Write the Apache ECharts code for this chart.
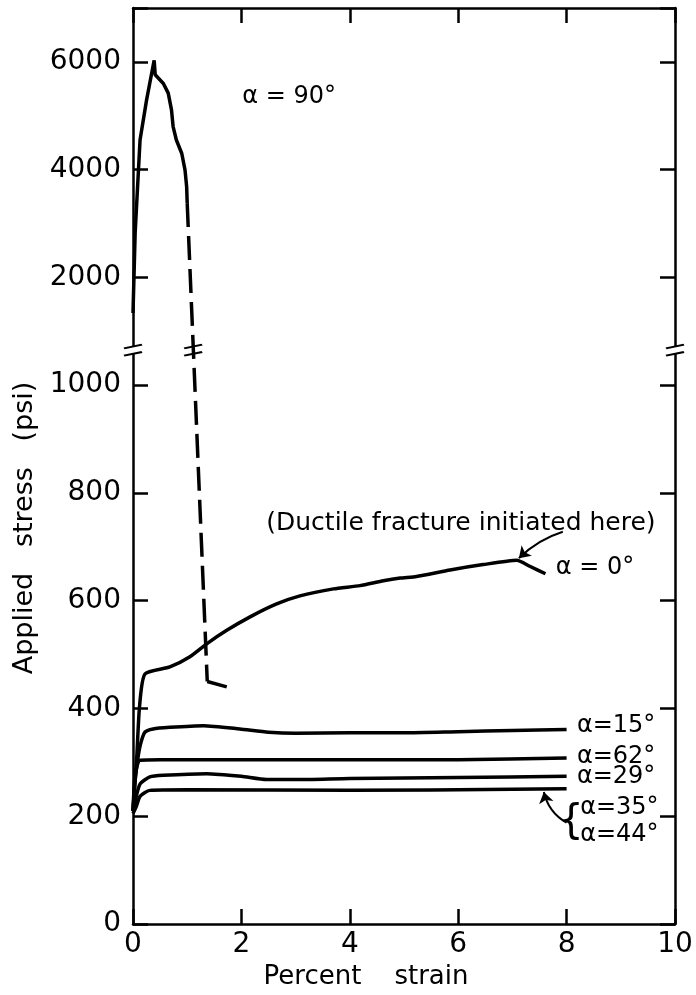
<!DOCTYPE html>
<html>
<head>
<meta charset="utf-8">
<script src="https://cdn.jsdelivr.net/npm/echarts@6/dist/echarts.min.js"></script>
<style>
  html, body { margin: 0; padding: 0; background: #fff; }
  #chart { width: 696px; height: 995px; }
</style>
</head>
<body>
<div id="chart"></div>
<script>
// strain (%) vs applied stress (psi); the stress axis is broken above 1000 psi
const alpha90 = [[0, 1340], [0.04, 2830], [0.13, 4550], [0.25, 5290], [0.39, 6030], [0.41, 5760],
  [0.56, 5600], [0.65, 5420], [0.71, 5110], [0.74, 4800], [0.80, 4550], [0.90, 4300],
  [0.96, 3990], [0.99, 3680], [1.00, 3380]];
const alpha90Drop = [[1.00, 3380], [1.37, 450]];
const alpha90Tail = [[1.37, 450], [1.73, 440]];
const alpha0 = [[0, 210], [0.02, 238], [0.07, 311], [0.12, 403], [0.22, 464], [0.68, 477],
  [1.05, 496], [1.36, 520], [1.73, 545], [2.16, 570], [2.65, 594], [3.08, 609], [3.70, 622],
  [4.19, 628], [4.62, 637], [4.93, 642], [5.23, 645], [5.85, 657], [6.46, 667], [7.08, 675],
  [7.32, 664], [7.61, 650]];
const alpha15 = [[0, 210], [0.03, 256], [0.07, 293], [0.13, 330], [0.22, 356], [0.37, 362],
  [0.68, 365], [1.3, 368], [1.97, 362], [2.5, 356], [3, 354], [4, 355], [5, 355], [6, 357],
  [7, 359], [8, 361]];
const alpha62 = [[0, 210], [0.03, 268], [0.08, 295], [0.13, 304], [0.5, 305], [2, 305],
  [4, 305], [6, 305], [8, 308]];
const alpha29 = [[0, 210], [0.06, 237], [0.13, 260], [0.31, 273], [0.56, 276], [1.36, 279],
  [2.0, 274], [2.46, 268], [3, 268], [4, 270], [6, 272], [8, 274]];
const alpha3544 = [[0, 205], [0.06, 218], [0.13, 237], [0.31, 248], [1, 249], [4, 248],
  [7, 250], [8, 251]];

const strainTicks = [0, 2, 4, 6, 8, 10];
const stressTicksLow = [0, 200, 400, 600, 800, 1000];
const stressTicksHigh = [2000, 4000, 6000];

const labels = [
  { text: 'α = 90°', at: [2.88, 5350], align: 'center' },
  { text: '(Ductile fracture initiated here)', at: [6.05, 744], align: 'center' },
  { text: 'α = 0°', at: [7.80, 661], align: 'left' },
  { text: 'α=15°', at: [8.19, 367], align: 'left' },
  { text: 'α=62°', at: [8.19, 310], align: 'left' },
  { text: 'α=29°', at: [8.19, 273], align: 'left' },
  { text: 'α=35°', at: [8.25, 215], align: 'left' },
  { text: 'α=44°', at: [8.25, 165], align: 'left' }
];
const brace = [8.08, 189];
// leader arrows: start, end (tip)
const arrows = [
  { from: [7.93, 728], to: [7.12, 679], curveness: -0.12 },
  { from: [8.0, 188], to: [7.58, 245], curveness: 0.22 }
];
const breakAt = 1065;               // axis position of the // marks
const breakMarks = [[0, breakAt], [10, breakAt], [1.11, breakAt]];

const FONT = '"DejaVu Sans", sans-serif';

// above 1000 psi the scale is compressed tenfold
const toAxis = v => (v <= 1000 ? v : 1000 + v / 10);
const fromAxis = t => {
  if (stressTicksLow.includes(t)) return String(t);
  const v = (t - 1000) * 10;
  return stressTicksHigh.includes(v) ? String(v) : '';
};
const conv = arr => arr.map(([x, v]) => [x, toAxis(v)]);

const curve = (name, data, extra) => Object.assign({
  name: name,
  type: 'line',
  data: conv(data),
  showSymbol: false,
  smooth: 0.2,
  lineStyle: { color: '#000', width: 3.5 },
  emphasis: { disabled: true },
  silent: true,
  z: 3
}, extra || {});

const chart = echarts.init(document.getElementById('chart'));

const axisCommon = {
  axisLine: { lineStyle: { color: '#000', width: 2.5 } },
  axisTick: { inside: true, length: 15, lineStyle: { color: '#000', width: 2.5 } },
  splitLine: { show: false }
};

const option = {
  backgroundColor: '#fff',
  animation: false,
  textStyle: { fontFamily: FONT, color: '#000' },
  grid: { left: 133, right: 21, top: 8, bottom: 71 },
  xAxis: [
    Object.assign({
      type: 'value', min: 0, max: 10, interval: 2,
      name: 'Percent    strain',
      nameLocation: 'middle',
      nameGap: 37,
      nameTextStyle: { fontSize: 26, color: '#000', padding: [0, 76, 0, 0] },
      axisLabel: {
        fontSize: 28, color: '#000', margin: 7,
        formatter: v => (strainTicks.includes(v) ? String(v) : '')
      }
    }, axisCommon),
    Object.assign({
      type: 'value', min: 0, max: 10, interval: 2, position: 'top',
      axisLabel: { show: false }
    }, axisCommon, { axisLine: { onZero: false, lineStyle: { color: '#000', width: 2.5 } } })
  ],
  yAxis: [
    Object.assign({
      type: 'value', min: 0, max: 1700, interval: 200,
      name: 'Applied   stress   (psi)',
      nameLocation: 'middle',
      nameGap: 90,
      nameTextStyle: { fontSize: 27, color: '#000', padding: [0, 124, 0, 0] },
      axisLabel: { fontSize: 28, color: '#000', margin: 12, formatter: fromAxis }
    }, axisCommon),
    Object.assign({
      type: 'value', min: 0, max: 1700, interval: 200, position: 'right',
      axisLabel: { show: false }
    }, axisCommon, { axisLine: { onZero: false, lineStyle: { color: '#000', width: 2.5 } } })
  ],
  series: [
    curve('α = 90°', alpha90, { smooth: false }),
    curve('α = 90° (drop)', alpha90Drop, { smooth: false, lineStyle: { color: '#000', width: 3.5, type: [24, 9] } }),
    curve('α = 90° (tail)', alpha90Tail, { smooth: false }),
    curve('α = 0°', alpha0),
    curve('α = 15°', alpha15),
    curve('α = 62°', alpha62),
    curve('α = 29°', alpha29),
    curve('α = 35°, 44°', alpha3544),
    {
      name: 'leaders',
      type: 'lines',
      coordinateSystem: 'cartesian2d',
      silent: true,
      z: 4,
      symbol: ['none', 'arrow'],
      symbolSize: 11,
      lineStyle: { color: '#000', width: 2, opacity: 1 },
      data: arrows.map(a => ({
        coords: [a.from, a.to],
        lineStyle: { curveness: a.curveness }
      }))
    },
    {
      name: 'break gap',
      type: 'scatter',
      silent: true,
      clip: false,
      z: 4,
      symbol: 'rect',
      symbolSize: [12, 7],
      itemStyle: { color: '#fff', opacity: 1 },
      data: breakMarks.slice(0, 2)
    },
    {
      name: 'break marks',
      type: 'scatter',
      silent: true,
      clip: false,
      z: 5,
      symbol: 'path://M0,6 L20,2 M0,14 L20,10',
      symbolSize: [18, 11],
      symbolKeepAspect: false,
      itemStyle: { color: 'none', borderColor: '#000', borderWidth: 2.5, opacity: 1 },
      data: breakMarks
    },
    {
      name: 'labels',
      type: 'scatter',
      silent: true,
      clip: false,
      symbolSize: 0,
      itemStyle: { opacity: 1 },
      data: labels.map(l => ({
        name: l.text,
        value: [l.at[0], toAxis(l.at[1])],
        label: {
          show: true, position: 'inside', align: l.align, verticalAlign: 'middle',
          formatter: '{b}', fontFamily: FONT, color: '#000',
          fontSize: l.text.length > 12 ? 25 : 24
        }
      })).concat([{
        name: '{',
        value: [brace[0], toAxis(brace[1])],
        label: {
          show: true, position: 'inside', align: 'center', verticalAlign: 'middle',
          formatter: '{b}', fontFamily: FONT, color: '#000', fontSize: 40
        }
      }])
    }
  ]
};

chart.setOption(option);
</script>
</body>
</html>
